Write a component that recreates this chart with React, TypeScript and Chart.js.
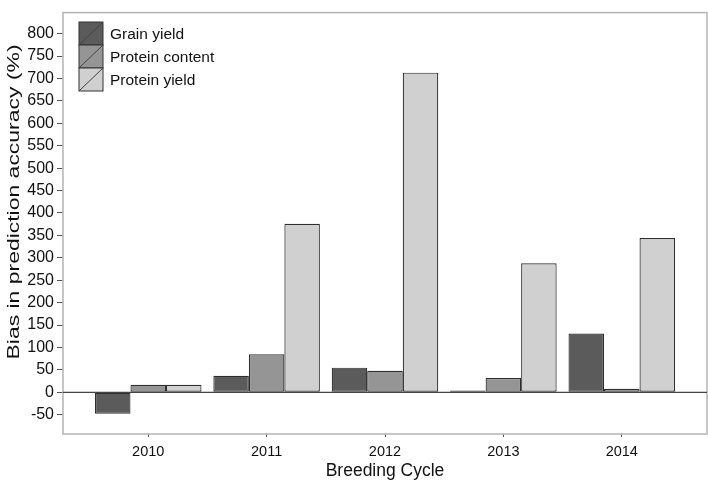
import React, { useEffect, useRef } from "react";
import { Chart, registerables } from "chart.js";

Chart.register(...registerables);

const cycles = [2010, 2011, 2012, 2013, 2014];
const grainYield = [-48, 37, 55, 4, 131];
const proteinContent = [17, 85, 48, 32, 8];
const proteinYield = [17, 376, 713, 288, 344];
const seriesNames = ["Grain yield", "Protein content", "Protein yield"];
const seriesColors = ["#5b5b5b", "#959595", "#d0d0d0"];
const yTicks = [-50, 0, 50, 100, 150, 200, 250, 300, 350, 400, 450, 500, 550, 600, 650, 700, 750, 800];
const yTitle = "Bias in prediction accuracy (%)";

const FONT = "'Liberation Sans', Arial, sans-serif";

const framePlugin = {
  id: "frame",
  beforeDatasetsDraw(chart: any) {
    const { ctx, chartArea } = chart;
    ctx.save();
    ctx.strokeStyle = "#b4b4b4";
    ctx.lineWidth = 1.5;
    ctx.strokeRect(chartArea.left, chartArea.top, chartArea.right - chartArea.left, chartArea.bottom - chartArea.top);
    ctx.restore();
  },
  afterDatasetsDraw(chart: any) {
    const { ctx, chartArea, scales } = chart;
    const y0 = scales.y.getPixelForValue(0);
    ctx.save();
    ctx.strokeStyle = "#444";
    ctx.lineWidth = 1.2;
    ctx.beginPath();
    ctx.moveTo(chartArea.left, y0);
    ctx.lineTo(chartArea.right, y0);
    ctx.stroke();
    // legend
    const bx = 79, by = 22, bw = 24, bh = 23;
    seriesNames.forEach((name, i) => {
      const y = by + i * bh;
      ctx.fillStyle = seriesColors[i];
      ctx.fillRect(bx, y, bw, bh);
      ctx.strokeStyle = "#333";
      ctx.lineWidth = 1;
      ctx.strokeRect(bx, y, bw, bh);
      ctx.beginPath();
      ctx.moveTo(bx, y + bh);
      ctx.lineTo(bx + bw, y);
      ctx.strokeStyle = "#444";
      ctx.stroke();
      ctx.fillStyle = "#111";
      ctx.font = "15.5px " + FONT;
      ctx.textBaseline = "middle";
      ctx.textAlign = "left";
      ctx.fillText(name, bx + bw + 7, y + bh / 2 + 1);
    });
    // y axis title (stretched along its length as in the reference)
    ctx.translate(14, 202);
    ctx.rotate(-Math.PI / 2);
    ctx.scale(1.35, 1);
    ctx.font = "17px " + FONT;
    ctx.fillStyle = "#111";
    ctx.textAlign = "center";
    ctx.textBaseline = "middle";
    ctx.fillText(yTitle, 0, 0);
    ctx.restore();
  },
};

export default function App() {
  const ref = useRef<HTMLCanvasElement>(null);
  useEffect(() => {
    if (!ref.current) return;
    const data = [grainYield, proteinContent, proteinYield];
    const chart = new Chart(ref.current, {
      type: "bar",
      data: {
        datasets: seriesNames.map((name, i) => ({
          label: name,
          data: cycles.map((c, j) => ({ x: c, y: data[i][j] })),
          backgroundColor: seriesColors[i],
          borderColor: "#2e2e2e",
          borderWidth: 1.2,
          borderSkipped: false,
          categoryPercentage: 0.9,
          barPercentage: 1.0,
        })),
      },
      options: {
        animation: false,
        responsive: false,
        maintainAspectRatio: false,
        layout: { padding: { top: 1, right: 1, left: 0, bottom: 0 } },
        plugins: { legend: { display: false }, tooltip: { enabled: false } },
        scales: {
          x: {
            type: "linear",
            offset: false,
            min: 2009.28,
            max: 2014.72,
            grid: { display: true, offset: false, drawOnChartArea: false, tickLength: 3, color: "#555" },
            border: { display: false },
            afterBuildTicks: (scale: any) => {
              scale.ticks = cycles.map((c) => ({ value: c }));
            },
            afterFit: (scale: any) => {
              scale.height = 48;
            },
            ticks: {
              color: "#111",
              font: { family: FONT, size: 14.5 },
              padding: 6,
              callback: (v: any) => String(v),
            },
            title: {
              display: true,
              text: "Breeding Cycle",
              color: "#111",
              font: { family: FONT, size: 17.5 },
              padding: { top: 1, bottom: 0 },
            },
          },
          y: {
            type: "linear",
            min: -93,
            max: 847,
            grid: { display: true, drawOnChartArea: false, tickLength: 6, color: "#555" },
            border: { display: false },
            afterBuildTicks: (scale: any) => {
              scale.ticks = yTicks.map((v) => ({ value: v }));
            },
            afterFit: (scale: any) => {
              scale.width = 63;
            },
            ticks: {
              color: "#111",
              font: { family: FONT, size: 16 },
              padding: 3,
            },
          },
        },
      },
      plugins: [framePlugin],
    } as any);
    return () => chart.destroy();
  }, []);
  return (
    <div style={{ position: "absolute", left: 0, top: 0, width: 708, height: 482, background: "#fff" }}>
      <canvas ref={ref} width={708} height={482} style={{ width: 708, height: 482 }} />
    </div>
  );
}
